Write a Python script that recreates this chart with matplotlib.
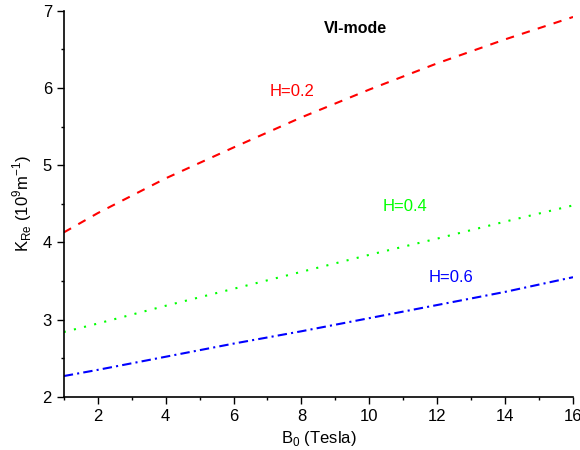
import numpy as np
import matplotlib
matplotlib.use("Agg")
import matplotlib.pyplot as plt
from matplotlib.ticker import MultipleLocator

plt.rcParams['font.family'] = ['Liberation Sans', 'DejaVu Sans']
plt.rcParams['mathtext.fontset'] = 'custom'
plt.rcParams['mathtext.rm'] = 'Liberation Sans'

b0 = [1, 2, 4, 6, 8, 10, 12, 14, 16]
k_h02 = [4.13, 4.38, 4.83, 5.23, 5.62, 5.98, 6.32, 6.63, 6.92]
k_h04 = [2.84, 2.95, 3.18, 3.40, 3.62, 3.84, 4.05, 4.27, 4.48]
k_h06 = [2.27, 2.35, 2.52, 2.69, 2.85, 3.02, 3.19, 3.36, 3.55]

fig = plt.figure(figsize=(5.8, 4.5), dpi=100)
ax = fig.add_axes([0.110, 0.118, 0.878, 0.858])

ax.plot(b0, k_h02, color='#ff0000', lw=1.5, dashes=(4, 4))
ax.plot(b0, k_h04, color='#00ff00', lw=1.5, dashes=(1, 4))
ax.plot(b0, k_h06, color='#0000ff', lw=1.5, dashes=(4.5, 2, 1, 2))

ax.text(9.58, 6.77, 'VI-mode', fontsize=11.5, fontweight='bold', ha='center', va='center')
ax.text(7.72, 5.95, 'H=0.2', color='#ff0000', fontsize=12, ha='center', va='center')
ax.text(11.05, 4.47, 'H=0.4', color='#00ff00', fontsize=12, ha='center', va='center')
ax.text(12.41, 3.54, 'H=0.6', color='#0000ff', fontsize=12, ha='center', va='center')

ax.set_xlim(1, 16)
ax.set_ylim(2, 7)
ax.xaxis.set_major_locator(MultipleLocator(2))
ax.xaxis.set_minor_locator(MultipleLocator(1))
ax.yaxis.set_major_locator(MultipleLocator(1))
ax.yaxis.set_minor_locator(MultipleLocator(0.5))
ax.tick_params(which='major', length=5, width=1, labelsize=12, direction='out')
ax.tick_params(which='minor', length=2.5, width=1, direction='out')
ax.spines['top'].set_visible(False)
ax.spines['right'].set_visible(False)
for s in ('left', 'bottom'):
    ax.spines[s].set_linewidth(1.2)

ax.set_xlabel(r'B$_0$ (Tesla)', fontsize=12, labelpad=4)
ax.set_ylabel(r'K$_{\mathrm{Re}}$ (10$^{\mathrm{9}}$m$^{\mathrm{-1}}$)', fontsize=12, labelpad=6)

fig.savefig('out.png', dpi=100)
